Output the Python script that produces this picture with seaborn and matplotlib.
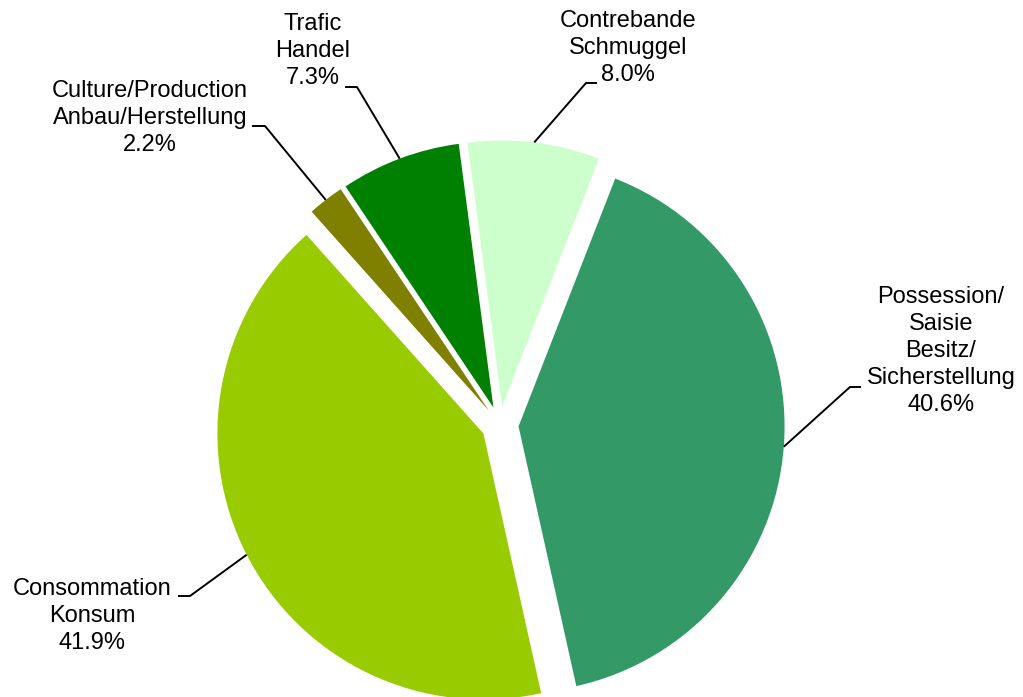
import numpy as np
import matplotlib
matplotlib.use("Agg")
import matplotlib.pyplot as plt
import seaborn as sns

# Données
categories = [
    "Possession/\nSaisie\nBesitz/\nSicherstellung",
    "Consommation\nKonsum",
    "Culture/Production\nAnbau/Herstellung",
    "Trafic\nHandel",
    "Contrebande\nSchmuggel",
]
pourcentages = [40.6, 41.9, 2.2, 7.3, 8.0]
couleurs = ["#339966", "#99CC00", "#808000", "#008000", "#CCFFCC"]

# Mise en page (coordonnées image, y vers le bas)
W, H = 1023, 697
centre_img = (500, 425)
rayon = 266
texte_pos = [(941, 351), (92, 616), (150, 118), (313, 51), (628, 48)]
coude_pos = [(850, 387), (190, 596), (265, 126), (357, 87), (586, 83)]
fin_pos = [(861, 387), (178, 596), (252, 126), (345, 87), (597, 83)]


def px(x, y):
    return x, H - y


sns.set_theme(style="white")
plt.rcParams["font.family"] = ["Liberation Sans", "DejaVu Sans"]

fig = plt.figure(figsize=(W / 100, H / 100), dpi=100)
ax = fig.add_axes([0, 0, 1, 1])

# explode est en unités absolues -> 7 % du rayon
wedges, _ = ax.pie(
    pourcentages,
    colors=couleurs,
    explode=[0.07 * rayon] * len(pourcentages),
    startangle=68.7,
    counterclock=False,
    radius=rayon,
    center=px(*centre_img),
    wedgeprops=dict(linewidth=0),
)

ax.set_xlim(0, W)
ax.set_ylim(0, H)
ax.axis("off")

# Étiquettes avec lignes de rappel
for w, cat, pct, tp, cp, fp in zip(wedges, categories, pourcentages,
                                   texte_pos, coude_pos, fin_pos):
    ang = np.deg2rad((w.theta1 + w.theta2) / 2)
    cx, cy = w.center
    x0 = cx + w.r * np.cos(ang)
    y0 = cy + w.r * np.sin(ang)
    xc, yc = px(*cp)
    xf, yf = px(*fp)
    ax.plot([x0, xc, xf], [y0, yc, yf], color="black", lw=1.4,
            solid_capstyle="butt")
    ax.text(*px(*tp), f"{cat}\n{pct:.1f}%", ha="center", va="center",
            multialignment="center", fontsize=17, linespacing=1.28,
            color="black")

fig.savefig("out.png", dpi=100)
